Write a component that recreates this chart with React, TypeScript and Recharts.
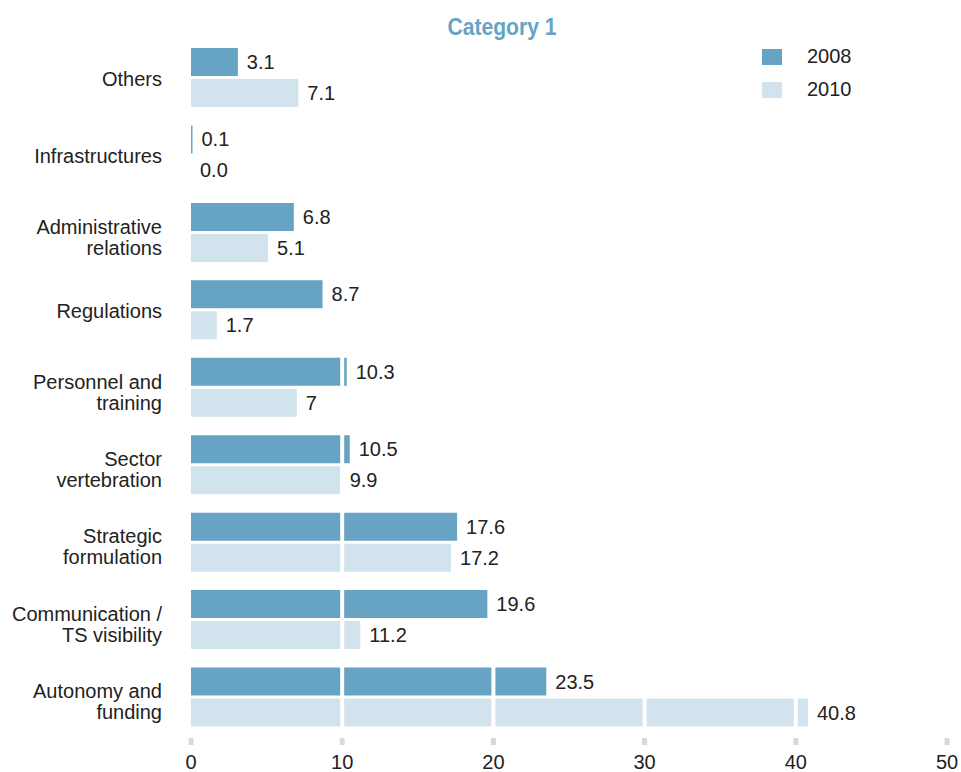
import { BarChart, Bar, XAxis, YAxis, LabelList, ReferenceLine } from "recharts";

const categories = [
  "Others",
  "Infrastructures",
  "Administrative\nrelations",
  "Regulations",
  "Personnel and\ntraining",
  "Sector\nvertebration",
  "Strategic\nformulation",
  "Communication /\nTS visibility",
  "Autonomy and\nfunding",
];
const values2008 = [3.1, 0.1, 6.8, 8.7, 10.3, 10.5, 17.6, 19.6, 23.5];
const values2010 = [7.1, 0.0, 5.1, 1.7, 7, 9.9, 17.2, 11.2, 40.8];
const labels2008 = ["3.1", "0.1", "6.8", "8.7", "10.3", "10.5", "17.6", "19.6", "23.5"];
const labels2010 = ["7.1", "0.0", "5.1", "1.7", "7", "9.9", "17.2", "11.2", "40.8"];
const xTicks = [0, 10, 20, 30, 40, 50];
const gridLines = [10, 20, 30, 40];

const DARK = "#67a3c2";
const LIGHT = "#d1e3ed";
const FONT = "'Liberation Sans', Arial, sans-serif";
const BAR = 28;
const GAP = 3;

const data = categories.map((name, i) => ({
  name,
  y2008: values2008[i],
  y2010: values2010[i],
  l2008: labels2008[i],
  l2010: labels2010[i],
}));

function CategoryTick({ y, payload }: any) {
  const lines = String(payload.value).split("\n");
  const start = lines.length > 1 ? -6 : 1;
  return (
    <text x={162} y={y + start} textAnchor="end" fill="#222" fontSize={20} fontFamily={FONT} dominantBaseline="central">
      {lines.map((l, i) => (
        <tspan key={i} x={162} dy={i === 0 ? 0 : 21}>
          {l}
        </tspan>
      ))}
    </text>
  );
}

function ValueTick({ x, y, payload }: any) {
  return (
    <g>
      <rect x={x - 2.5} y={y + 2} width={5} height={7} fill="#d9d9d9" />
      <text x={x} y={y + 33} textAnchor="middle" fill="#222" fontSize={20} fontFamily={FONT}>
        {payload.value}
      </text>
    </g>
  );
}

// labels for the 2008 bars; a 2010 bar of zero width draws no label of its own,
// so its label is placed here, one bar below
function Label2008(props: any) {
  const { x, y, width, height, value, index } = props;
  const row = data[index];
  return (
    <g>
      <text x={x + width + 9} y={y + height / 2} fill="#222" fontSize={20} fontFamily={FONT} dominantBaseline="central">
        {value}
      </text>
      {row && row.y2010 === 0 ? (
        <text x={x + 9} y={y + height / 2 + BAR + GAP} fill="#222" fontSize={20} fontFamily={FONT} dominantBaseline="central">
          {row.l2010}
        </text>
      ) : null}
    </g>
  );
}

function Label2010(props: any) {
  const { x, y, width, height, value } = props;
  return (
    <text x={x + width + 9} y={y + height / 2} fill="#222" fontSize={20} fontFamily={FONT} dominantBaseline="central">
      {value}
    </text>
  );
}

function LegendBox() {
  const items = [
    { label: "2008", color: DARK },
    { label: "2010", color: LIGHT },
  ];
  return (
    <div style={{ position: "absolute", top: 40, left: 762, fontFamily: FONT }}>
      {items.map((it) => (
        <div key={it.label} style={{ display: "flex", alignItems: "center", height: 33 }}>
          <div style={{ width: 20, height: 16, background: it.color, marginRight: 25 }} />
          <span style={{ fontSize: 20, color: "#222" }}>{it.label}</span>
        </div>
      ))}
    </div>
  );
}

export default function App() {
  return (
    <div style={{ position: "absolute", top: 0, left: 0, width: 961, height: 772, background: "#fff" }}>
      <div
        style={{
          position: "absolute",
          top: 13,
          left: 0,
          width: 1004,
          textAlign: "center",
          fontFamily: FONT,
          fontWeight: "bold",
          fontSize: 24,
          color: DARK,
          transform: "scaleX(0.88)",
          transformOrigin: "502px 0",
        }}
      >
        Category 1
      </div>
      <BarChart
        width={961}
        height={772}
        data={data}
        layout="vertical"
        margin={{ top: 39, right: 14, bottom: 0, left: 0 }}
        barSize={BAR}
        barGap={GAP}
      >
        <XAxis
          type="number"
          domain={[0, 50]}
          ticks={xTicks}
          axisLine={false}
          tickLine={false}
          tickSize={0}
          tickMargin={0}
          height={36}
          tick={<ValueTick />}
        />
        <YAxis
          type="category"
          dataKey="name"
          width={191}
          axisLine={false}
          tickLine={false}
          interval={0}
          tick={<CategoryTick />}
        />
        <Bar dataKey="y2008" fill={DARK} isAnimationActive={false}>
          <LabelList dataKey="l2008" content={<Label2008 />} />
        </Bar>
        <Bar dataKey="y2010" fill={LIGHT} isAnimationActive={false}>
          <LabelList dataKey="l2010" content={<Label2010 />} />
        </Bar>
        {gridLines.map((g) => (
          <ReferenceLine key={g} x={g} stroke="#fff" strokeWidth={4} />
        ))}
      </BarChart>
      <LegendBox />
    </div>
  );
}
